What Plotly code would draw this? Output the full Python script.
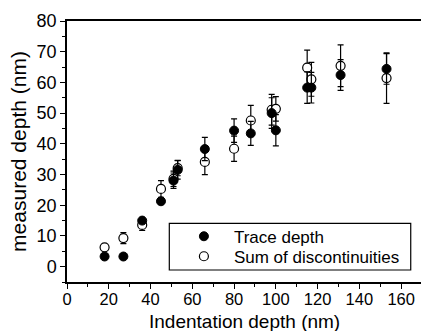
import plotly.graph_objects as go

indent = [18, 27, 36, 45, 51, 53, 66, 80, 88, 98, 100, 115, 117, 131, 153]
trace_depth = [3.3, 3.3, 15.0, 21.3, 28.0, 31.5, 38.3, 44.3, 43.4, 50.0, 44.4, 58.3, 58.3, 62.4, 64.4]
trace_err = [0, 0, 0.6, 0.8, 2.5, 3.0, 3.8, 3.8, 3.9, 5.0, 5.1, 5.1, 5.0, 5.0, 5.0]
sum_disc = [6.3, 9.3, 13.6, 25.3, 28.6, 32.1, 34.1, 38.4, 47.6, 51.1, 51.4, 64.8, 61.0, 65.4, 61.4]
sum_err = [0.8, 1.8, 1.8, 2.7, 2.5, 2.5, 4.1, 4.1, 4.9, 5.0, 4.0, 5.7, 5.5, 6.8, 8.2]

x_ticks = [0, 20, 40, 60, 80, 100, 120, 140, 160]
y_ticks = [0, 10, 20, 30, 40, 50, 60, 70, 80]

FONT = "Liberation Sans, Arial, sans-serif"

fig = go.Figure()
fig.add_trace(go.Scatter(
    x=indent, y=sum_disc, mode="markers", name="Sum of discontinuities",
    legend="legend2",
    marker=dict(symbol="circle", size=9, color="white", line=dict(color="black", width=1.2)),
    error_y=dict(type="data", array=sum_err, visible=True, color="black", thickness=1.2, width=3),
))
fig.add_trace(go.Scatter(
    x=indent, y=trace_depth, mode="markers", name="Trace depth",
    legend="legend",
    marker=dict(symbol="circle", size=9, color="black", line=dict(color="black", width=1)),
    error_y=dict(type="data", array=trace_err, visible=True, color="black", thickness=1.2, width=3),
))

line_common = dict(
    showline=True, linecolor="black", linewidth=1.5,
    ticks="outside", ticklen=5, tickwidth=1, tickcolor="black",
    showgrid=False, zeroline=False,
)
fig.update_xaxes(
    range=[0, 169.5], tickvals=x_ticks, mirror=True,
    minor=dict(dtick=10, ticks="outside", ticklen=3, tickcolor="black"),
    tickfont=dict(family=FONT, size=16.5, color="black"),
    ticklabelstandoff=-4,
    **line_common,
)
fig.update_yaxes(
    range=[-5, 80], tickvals=y_ticks, mirror=False,
    minor=dict(dtick=5, ticks="outside", ticklen=3, tickcolor="black"),
    tickfont=dict(family=FONT, size=18, color="black"),
    title=dict(text="measured depth (nm)", font=dict(family=FONT, size=21, color="black"), standoff=4),
    **line_common,
)

# x-axis title placed as an annotation at the bottom of the canvas
fig.add_annotation(
    text="Indentation depth (nm)", xref="paper", yref="paper",
    x=0.5, y=-51 / 261, xanchor="center", yanchor="bottom",
    showarrow=False, borderpad=0,
    font=dict(family=FONT, size=19, color="black"),
)

fig.add_shape(type="rect", xref="paper", yref="paper",
              x0=0.289, x1=0.971, y0=0.046, y1=0.225,
              line=dict(color="black", width=1.2), fillcolor="rgba(0,0,0,0)")

leg_common = dict(
    xanchor="left", yanchor="middle",
    bgcolor="rgba(0,0,0,0)", borderwidth=0,
    font=dict(family=FONT, size=17, color="black"),
    itemwidth=50,
)
fig.update_layout(
    width=421, height=331,
    margin=dict(l=67, r=0, t=21, b=49),
    paper_bgcolor="white", plot_bgcolor="white",
    showlegend=True,
    legend=dict(x=0.302, y=0.1736, **leg_common),
    legend2=dict(x=0.302, y=0.0969, **leg_common),
)

fig.write_html("out.html")
